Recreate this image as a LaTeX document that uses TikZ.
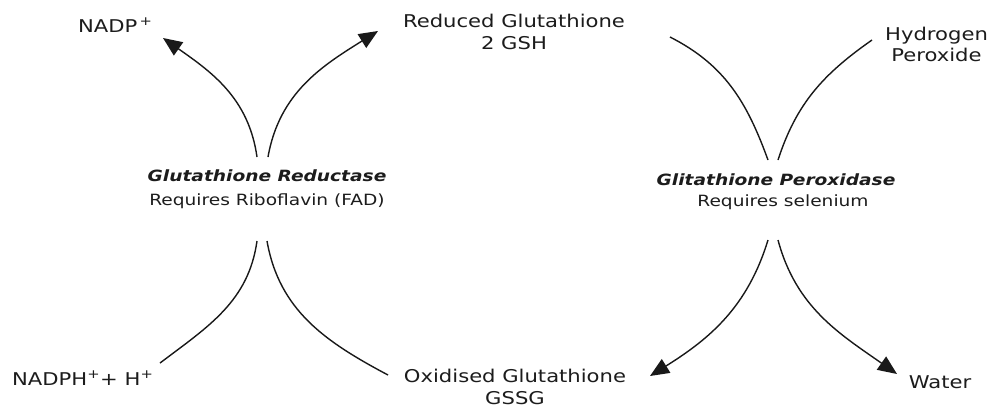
\documentclass[tikz,border=0pt]{standalone}
\usepackage{fontspec}
\setmainfont{DejaVu Sans}[FakeStretch=1.2]
\usetikzlibrary{arrows.meta}
\definecolor{txt}{RGB}{28,28,28}
\definecolor{ln}{RGB}{25,25,25}
\begin{document}
\begin{tikzpicture}[x=1pt,y=1pt,
  lbl/.style={inner sep=0pt, anchor=base, font=\fontsize{17.6}{21.6}\selectfont, text=txt, align=center},
  enz/.style={inner sep=0pt, anchor=base, font=\fontsize{15.5}{19}\selectfont\bfseries\itshape, text=txt},
  req/.style={inner sep=0pt, anchor=base, font=\fontsize{15.5}{19}\selectfont, text=txt},
  arc/.style={draw=ln, line width=1.4pt},
  arr/.style={arc, -{Triangle[length=19pt,width=16pt]}}]
\path[use as bounding box, fill=white] (0,0) rectangle (994,-408);

% labels (base anchor of two-line labels = baseline of last line)
\node[lbl, anchor=base west] (nadp) at (78,-32) {NADP\textsuperscript{\,+}};
\node[lbl] (gsh) at (514,-49.3) {Reduced Glutathione\\2 GSH};
\node[lbl] (hp) at (936.5,-61.7) {Hydrogen\\Peroxide};
\node[lbl, anchor=base west] (nadph) at (12,-385) {NADPH\textsuperscript{+}+ H\textsuperscript{+}};
\node[lbl] (gssg) at (515,-404) {Oxidised Glutathione\\GSSG};
\node[lbl] (water) at (940,-388) {Water};

% enzymes
\node[enz] (gr) at (267,-181.7) {Glutathione Reductase};
\node[req] (grreq) at (267,-205) {Requires Riboflavin (FAD)};
\node[enz] (gp) at (776,-185) {Glitathione Peroxidase};
\node[req] (gpreq) at (783,-206.7) {Requires selenium};

% connector end points
\coordinate (grTL) at (257,-157);
\coordinate (grTR) at (268,-157);
\coordinate (grBL) at (257,-241);
\coordinate (grBR) at (267,-241);
\coordinate (gpTL) at (768,-160);
\coordinate (gpTR) at (778,-160);
\coordinate (gpBL) at (768,-240);
\coordinate (gpBR) at (778,-240);
\coordinate (nadpEnd) at (163,-38);
\coordinate (gshEnd) at (378,-31);
\coordinate (nadphEnd) at (160,-363);
\coordinate (gssgEnd) at (388,-375);
\coordinate (gshStart) at (670,-37);
\coordinate (hpStart) at (872,-40);
\coordinate (gssgTip) at (650,-376);
\coordinate (waterTip) at (897,-374);

% Glutathione reductase
\draw[arr] (grTL) to[out=98,in=-35] (nadpEnd);
\draw[arr] (grTR) to[out=80,in=212] (gshEnd);
\draw[arc] (nadphEnd) to[out=37,in=262] (grBL);
\draw[arc] (gssgEnd) to[out=152,in=-80] (grBR);

% Glutathione peroxidase
\draw[arc] (gshStart) to[out=-27,in=110] (gpTL);
\draw[arc] (hpStart) to[out=215,in=72] (gpTR);
\draw[arr] (gpBL) to[out=253,in=32] (gssgTip);
\draw[arr] (gpBR) to[out=-75,in=145] (waterTip);
\end{tikzpicture}
\end{document}
